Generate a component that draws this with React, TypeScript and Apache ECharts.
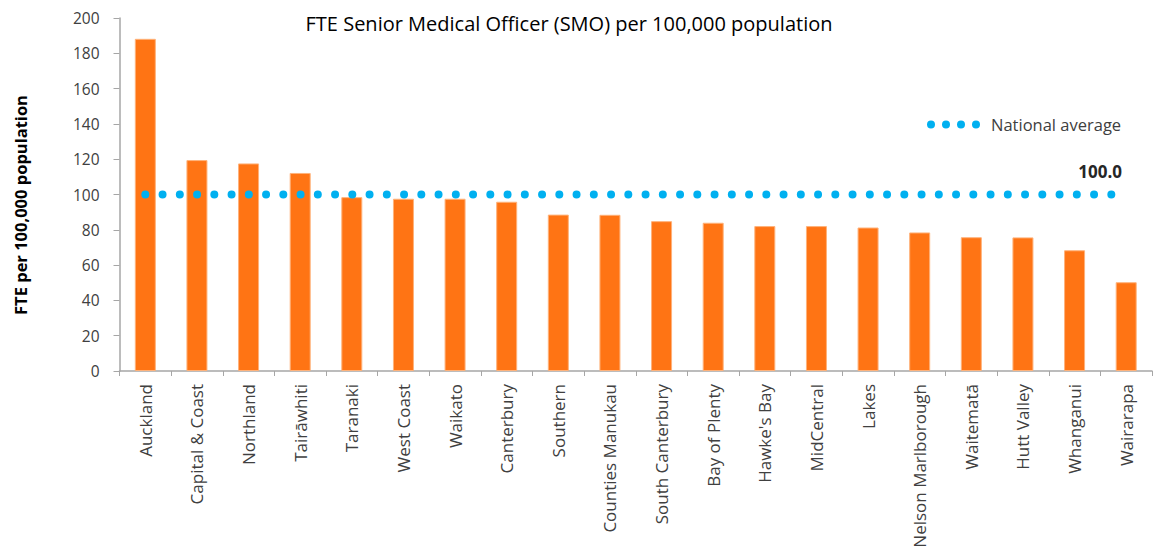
import React, { useEffect, useRef } from "react";
import * as echarts from "echarts";

const categories = [
  "Auckland", "Capital & Coast", "Northland", "Tairāwhiti", "Taranaki", "West Coast",
  "Waikato", "Canterbury", "Southern", "Counties Manukau", "South Canterbury",
  "Bay of Plenty", "Hawke's Bay", "MidCentral", "Lakes", "Nelson Marlborough",
  "Waitematā", "Hutt Valley", "Whanganui", "Wairarapa",
];
const smoValues = [188.2, 119.5, 117.6, 112.2, 98.5, 97.6, 97.6, 95.9, 88.6, 88.5, 84.9, 84.0, 82.1, 82.1, 81.3, 78.5, 75.8, 75.7, 68.4, 50.3];
const nationalAverage = [100, 100, 100, 100, 100, 100, 100, 100, 100, 100, 100, 100, 100, 100, 100, 100, 100, 100, 100, 100];
const yTicks = { min: 0, max: 200, interval: 20 };
const yAxisTitle = "FTE per 100,000 population";
const chartTitle = "FTE Senior Medical Officer (SMO) per 100,000 population";

const FONT = "'Open Sans', 'Noto Sans', sans-serif";

function dotsIcon() {
  const r = 4;
  let d = "";
  for (let i = 0; i < 4; i++) {
    const cx = r + i * 15;
    d += `M${cx - r},${r}A${r},${r},0,1,1,${cx + r},${r}A${r},${r},0,1,1,${cx - r},${r}Z`;
  }
  return "path://" + d;
}

export default function App() {
  const ref = useRef<HTMLDivElement>(null);
  useEffect(() => {
    if (!ref.current) return;
    const chart = echarts.init(ref.current, undefined, { renderer: "svg" });
    const last = nationalAverage.length - 1;
    chart.setOption({
      animation: false,
      backgroundColor: "#ffffff",
      title: {
        text: chartTitle,
        left: 564,
        textAlign: "center",
        top: 8,
        textStyle: { fontFamily: FONT, fontSize: 20, fontWeight: "normal", color: "#000000" },
      },
      legend: {
        left: 922,
        top: 111,
        icon: dotsIcon(),
        itemWidth: 53,
        itemHeight: 8,
        itemStyle: { color: "#00B0F0", borderWidth: 0 },
        textStyle: { fontFamily: FONT, fontSize: 16.5, color: "#404040", padding: [0, 0, 0, 6] },
        data: ["National average"],
      },
      graphic: [
        {
          type: "text",
          x: 20,
          y: 205,
          rotation: Math.PI / 2,
          style: {
            text: yAxisTitle,
            align: "center",
            verticalAlign: "middle",
            fontFamily: FONT,
            fontSize: 16.5,
            fontWeight: "bold",
            fill: "#000000",
          },
        },
      ],
      grid: { left: 119.5, right: 1, top: 18, bottom: 180, outerBoundsMode: "none" },
      xAxis: {
        type: "category",
        data: categories,
        axisLine: { lineStyle: { color: "#A6A6A6", width: 1.5 } },
        axisTick: { show: true, length: 5, lineStyle: { color: "#A6A6A6" } },
        axisLabel: {
          rotate: 90,
          interval: 0,
          margin: 13,
          fontFamily: FONT,
          fontSize: 17,
          color: "#404040",
        },
      },
      yAxis: {
        type: "value",
        min: yTicks.min,
        max: yTicks.max,
        interval: yTicks.interval,
        axisLine: { show: true, lineStyle: { color: "#A6A6A6", width: 1.5 } },
        axisTick: { show: true, length: 6, lineStyle: { color: "#A6A6A6" } },
        splitLine: { show: false },
        axisLabel: { margin: 20, fontFamily: FONT, fontSize: 15.5, color: "#404040" },
      },
      series: [
        {
          name: "FTE SMO",
          type: "bar",
          data: smoValues,
          barWidth: 21,
          itemStyle: { color: "#FF7414", borderColor: "#FFB27A", borderWidth: 1 },
        },
        {
          name: "National average",
          type: "line",
          data: nationalAverage.map((v, i) =>
            i === last ? { value: v, label: { show: true } } : v
          ),
          symbol: "circle",
          symbolSize: 0,
          z: 5,
          itemStyle: { color: "#00B0F0" },
          lineStyle: { color: "#00B0F0", width: 8, type: [0, 17.25], cap: "round" },
          label: {
            show: false,
            position: "top",
            distance: 15,
            offset: [-26, 0],
            formatter: (p: any) => Number(p.value).toFixed(1),
            fontFamily: FONT,
            fontSize: 17,
            fontWeight: "bold",
            color: "#262626",
          },
        },
      ],
    });
    return () => chart.dispose();
  }, []);
  return (
    <div
      ref={ref}
      style={{ position: "absolute", left: 0, top: 0, width: 1153, height: 551 }}
    />
  );
}
